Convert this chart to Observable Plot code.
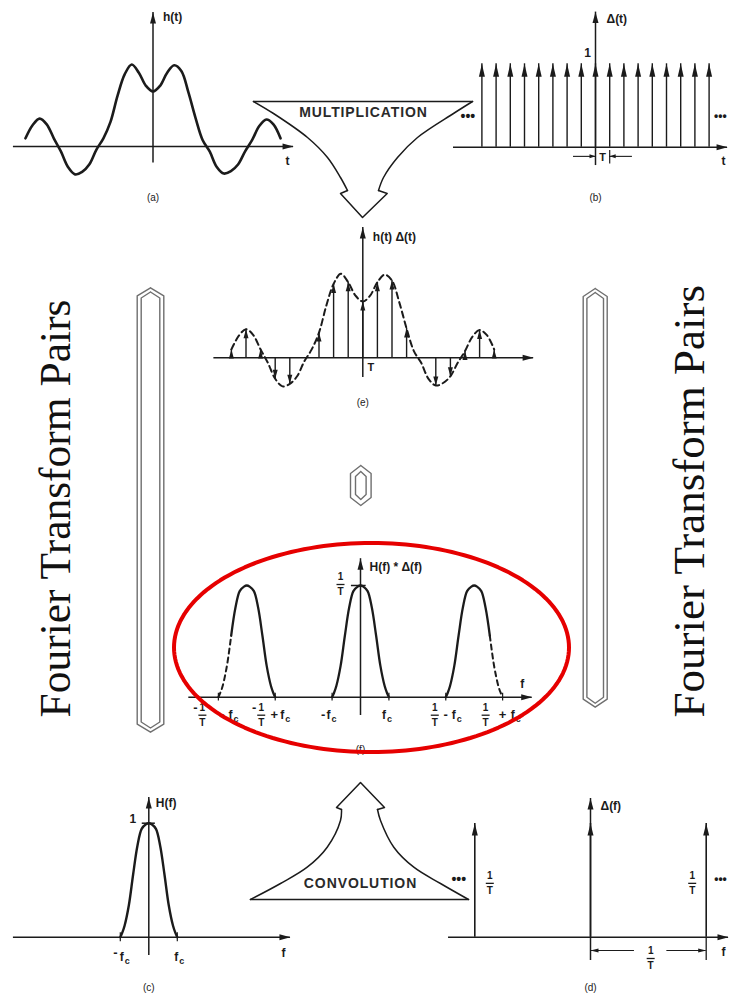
<!DOCTYPE html>
<html><head><meta charset="utf-8">
<script src="https://cdn.jsdelivr.net/npm/d3@7"></script>
<script src="https://cdn.jsdelivr.net/npm/@observablehq/plot@0.6"></script>
<style>
html,body{margin:0;padding:0;background:#fff;overflow:hidden;}
#page{position:relative;width:729px;height:996px;overflow:hidden;background:#fff;}
</style></head><body><div id="page"></div>
<script>
// ---------------- data ----------------
// h(t), t in units of the sampling interval T, step T/2
const tGrid = [-9,-8.5,-8,-7.5,-7,-6.5,-6,-5.5,-5,-4.5,-4,-3.5,-3,-2.5,-2,-1.5,-1,-0.5,0,0.5,1,1.5,2,2.5,3,3.5,4,4.5,5,5.5,6,6.5,7,7.5,8,8.5,9];
const hVals = [0.10,0.26,0.34,0.27,0.10,-0.06,-0.25,-0.34,-0.31,-0.22,-0.04,0.10,0.30,0.62,0.88,1.00,0.90,0.74,0.67,0.74,0.90,0.99,0.92,0.66,0.35,0.08,-0.06,-0.25,-0.33,-0.30,-0.22,-0.06,0.08,0.25,0.33,0.27,0.10];
// sample instants drawn as impulses in (e)
const sampleT = [-9,-8,-7,-6,-5,-3,-2,-1,0,1,2,3,5,6,7,8,9];
// impulse train Δ(t) in (b)
const combN = [-8,-7,-6,-5,-4,-3,-2,-1,0,1,2,3,4,5,6,7,8];
const combHeight = 1;
// band-limited spectrum H(f), f in units of fc
const bellX = [-1,-0.93,-0.85,-0.7,-0.55,-0.4,-0.25,-0.1,0,0.1,0.25,0.4,0.55,0.7,0.85,0.93,1];
const bellY = [0,0.04,0.1,0.28,0.55,0.8,0.95,0.99,1,0.99,0.95,0.8,0.55,0.28,0.1,0.04,0];
// periodic spectrum H(f)*Δ(f): centres in units of 1/T, fc relative to 1/T
const spectrumCenters = [-1, 0, 1];
const fcRatio = 0.25;
const spectrumPeak = 1;     // 1/T
// Δ(f) impulses, in units of 1/T
const deltaF = [-1, 0, 1];
const deltaHeight = 1;      // 1/T
// texts
const titleText = "Fourier Transform Pairs";
const opTexts = ["MULTIPLICATION", "CONVOLUTION"];
const axisLabels = {a: ["h(t)", "t", "(a)"], b: ["Δ(t)", "t", "(b)", "1", "T"], e: ["h(t) Δ(t)", "T", "(e)"],
  f: ["H(f) * Δ(f)", "f", "(f)"], c: ["H(f)", "f", "(c)", "1"], d: ["Δ(f)", "f", "(d)"]};
// tick label pieces for (f): [text, dx, dy?]; "frac" = 1/T, "f" = f with subscript c
const fTickLabels = [
  [["-", -23, 11], ["frac", -16], ["-", 4], ["f", 12]],
  [["-", -21, 11], ["frac", -14], ["+", -1], ["f", 7]],
  [["-", -9], ["f", -3.5]],
  [["f", -5]],
  [["frac", -11], ["-", 0], ["f", 8]],
  [["frac", -17], ["+", 0], ["f", 10]]
];

// ---------------- layout (pixels) ----------------
const W = 729, H = 996;
const A = {x0: 152.5, sx: 14.17, y0: 146, sy: 82, ax: [-9.85, 9.92], ay: [-0.2, 1.634]};
const B = {x0: 595, sx: 14.2, y0: 146.7, sy: 83.4, ax: [-10, 9.3], ay: [-0.22, 1.62]};
const E = {x0: 362.3, sx: 14.6, y0: 357.3, sy: 84, ax: [-10.2, 11.7], ay: [-0.235, 1.55]};
const F = {x0: 360, sx: 113.7, y0: 696.7, sy: 111.7, ax: [-1.51, 1.51], ay: [-0.164, 1.24]};
const C = {x0: 148.3, sx: 28.5, y0: 936.7, sy: 114, ax: [-4.75, 4.97], ay: [-0.16, 1.226]};
const D = {x0: 590, sx: 115.7, y0: 936.7, sy: 113.7, ax: [-1.227, 1.193], ay: [-0.205, 1.22]};
const PX = {x0: 0, sx: 1, y0: 0, sy: -1};

const INK = "#1b1b1b";
const SANS = "Liberation Sans, Arial, Helvetica, sans-serif";
const SERIF = "Liberation Serif, Times New Roman, serif";
const page = document.getElementById("page");

function head(dir, len = 10, wid = 6) {
  const h = wid / 2;
  return {draw(ctx) {
    ctx.moveTo(0, 0);
    if (dir === "up") { ctx.lineTo(-h, len); ctx.lineTo(h, len); }
    else if (dir === "down") { ctx.lineTo(-h, -len); ctx.lineTo(h, -len); }
    else if (dir === "right") { ctx.lineTo(-len, -h); ctx.lineTo(-len, h); }
    else { ctx.lineTo(len, -h); ctx.lineTo(len, h); }
    ctx.closePath();
  }};
}
const bar = (w) => ({draw(ctx) { ctx.moveTo(-w / 2, 0); ctx.lineTo(w / 2, 0); }});

function layer(fr, marks) {
  const svg = Plot.plot({
    width: W, height: H, margin: 0,
    x: {type: "linear", domain: [0, 1], range: [fr.x0, fr.x0 + fr.sx], axis: null},
    y: {type: "linear", domain: [0, 1], range: [fr.y0, fr.y0 - fr.sy], axis: null},
    style: "position:absolute;left:0;top:0;background:transparent;overflow:visible;max-width:none;",
    marks: marks.flat(Infinity)
  });
  page.appendChild(svg);
  return svg;
}
const txt = (x, y, s, o = {}) => Plot.text([s], {x, y, text: d => d, fontFamily: SANS, fontSize: 12, fontWeight: "bold", fill: INK, ...o});
const cap = (x, y, s, dy) => txt(x, y, s, {dy, fontSize: 10, fontWeight: "normal"});
const frac = (x, y, dx, dy, size = 10) => [
  txt(x, y, "1", {dx, dy: dy - 7.5, fontSize: size}),
  Plot.dot([0], {x, y, dx, dy, symbol: bar(8), stroke: INK, strokeWidth: 1.3, fill: "none"}),
  txt(x, y, "T", {dx, dy: dy + 7.5, fontSize: size})
];
const fsub = (x, y, dx, dy) => [
  txt(x, y, "f", {dx, dy, fontSize: 12}),
  txt(x, y, "c", {dx: dx + 5.5, dy: dy + 4, fontSize: 9})
];
const axes = (fr, hw = 1.5) => [
  Plot.ruleY([0], {x1: fr.ax[0], x2: fr.ax[1], stroke: INK, strokeWidth: hw}),
  Plot.ruleX([0], {y1: fr.ay[0], y2: fr.ay[1], stroke: INK, strokeWidth: hw}),
  Plot.dot([0], {x: fr.ax[1], y: 0, symbol: head("right", 11, 6), fill: INK, stroke: "none"}),
  Plot.dot([0], {x: 0, y: fr.ay[1], symbol: head("up", 11, 6), fill: INK, stroke: "none"})
];
const pieces = (x, baseDy, list) => list.map(([s, dx, dy]) =>
  s === "frac" ? frac(x, 0, dx, baseDy) :
  s === "f" ? fsub(x, 0, dx, baseDy) :
  txt(x, 0, s, {dx, dy: dy ?? baseDy, fontSize: 13}));

// ---------------- (a) h(t) ----------------
const hSeries = tGrid.map((t, i) => ({t, h: hVals[i]}));
layer(A, [
  axes(A),
  Plot.line(hSeries, {x: "t", y: "h", curve: "catmull-rom", stroke: INK, strokeWidth: 2.6}),
  txt(0, A.ay[1], axisLabels.a[0], {dx: 10, dy: 5, textAnchor: "start"}),
  txt(A.ax[1], 0, axisLabels.a[1], {dx: -6, dy: 15}),
  cap(0, 0, axisLabels.a[2], 51)
]);

// ---------------- (b) Δ(t) ----------------
const comb = combN.map(n => ({n, v: combHeight}));
layer(B, [
  axes(B),
  Plot.ruleX(comb, {x: "n", y1: 0, y2: "v", stroke: INK, strokeWidth: 1.4}),
  Plot.dot(comb, {x: "n", y: "v", symbol: head("up", 13, 6), fill: INK, stroke: "none"}),
  txt(0, B.ay[1], axisLabels.b[0], {dx: 11, dy: 7, textAnchor: "start"}),
  txt(0, combHeight, axisLabels.b[3], {dx: -8, dy: -11}),
  txt(combN[0], 0, "•••", {dx: -14, dy: -31, fontSize: 14}),
  txt(combN[combN.length - 1], 0, "•••", {dx: 5, dy: -31, fontSize: 12, textAnchor: "start"}),
  Plot.ruleY([-0.11], {x1: -1.55, x2: 0, stroke: INK, strokeWidth: 1.1}),
  Plot.ruleY([-0.11], {x1: 1, x2: 2.6, stroke: INK, strokeWidth: 1.1}),
  Plot.dot([0], {x: 0, y: -0.11, symbol: head("right", 6, 4), fill: INK, stroke: "none"}),
  Plot.dot([0], {x: 1, y: -0.11, symbol: head("left", 6, 4), fill: INK, stroke: "none"}),
  Plot.ruleX([1], {y1: -0.04, y2: -0.2, stroke: INK, strokeWidth: 1.2}),
  txt(0.5, -0.11, axisLabels.b[4], {dy: 1, fontSize: 11}),
  txt(B.ax[1], 0, axisLabels.b[1], {dx: -4, dy: 14}),
  cap(0, 0, axisLabels.b[2], 51)
]);

// ---------------- (e) sampled ----------------
const sampled = sampleT.map(t => ({t, h: hVals[tGrid.indexOf(t)]}));
layer(E, [
  axes(E),
  Plot.line(hSeries, {x: "t", y: "h", curve: "catmull-rom", stroke: INK, strokeWidth: 2, strokeDasharray: "6,4"}),
  Plot.ruleX(sampled, {x: "t", y1: 0, y2: "h", stroke: INK, strokeWidth: 1.4}),
  Plot.dot(sampled.filter(d => d.h > 0), {x: "t", y: "h", symbol: head("up", 9, 5), fill: INK, stroke: "none"}),
  Plot.dot(sampled.filter(d => d.h < 0), {x: "t", y: "h", symbol: head("down", 9, 5), fill: INK, stroke: "none"}),
  txt(0, E.ay[1], axisLabels.e[0], {dx: 10, dy: 10, textAnchor: "start"}),
  txt(0, 0, axisLabels.e[1], {dx: 8, dy: 10, fontSize: 11}),
  cap(0, 0, axisLabels.e[2], 45)
]);

// ---------------- (f) H(f)*Δ(f) ----------------
const spec = spectrumCenters.flatMap(c => bellX.map((b, i) => ({c, b, f: c + b * fcRatio, v: bellY[i] * spectrumPeak})));
const isDashed = d => (d.c < 0 && d.b <= -0.55) || (d.c > 0 && d.b >= 0.55);
const isSolid = d => d.c === 0 || (d.c < 0 && d.b >= -0.55) || (d.c > 0 && d.b <= 0.55);
const fTicks = spectrumCenters.flatMap(c => [c - fcRatio, c + fcRatio]);
layer(F, [
  axes(F),
  Plot.line(spec.filter(isSolid), {x: "f", y: "v", z: "c", curve: "catmull-rom", stroke: INK, strokeWidth: 2.3}),
  Plot.line(spec.filter(isDashed), {x: "f", y: "v", z: "c", curve: "catmull-rom", stroke: INK, strokeWidth: 2, strokeDasharray: "5,4"}),
  Plot.ruleY([spectrumPeak], {x1: -0.08, x2: 0.05, stroke: INK, strokeWidth: 1.5}),
  Plot.ruleX(fTicks, {x: d => d, y1: -0.035, y2: 0.035, stroke: INK, strokeWidth: 1.2}),
  txt(0, F.ay[1], axisLabels.f[0], {dx: 9, dy: 8, textAnchor: "start"}),
  frac(0, spectrumPeak, -20, -1),
  txt(F.ax[1], 0, axisLabels.f[1], {dx: -10, dy: -13}),
  cap(0, 0, axisLabels.f[2], 53),
  fTicks.map((x, i) => pieces(x, 18, fTickLabels[i]))
]);

// ---------------- (c) H(f) ----------------
const bell = bellX.map((b, i) => ({b, v: bellY[i]}));
layer(C, [
  axes(C),
  Plot.line(bell, {x: "b", y: "v", curve: "catmull-rom", stroke: INK, strokeWidth: 2.4}),
  Plot.ruleY([1], {x1: -0.23, x2: 0.23, stroke: INK, strokeWidth: 1.5}),
  Plot.ruleX([-1, 1], {y1: -0.04, y2: 0.04, stroke: INK, strokeWidth: 1.2}),
  txt(0, C.ay[1], axisLabels.c[0], {dx: 7, dy: 6, textAnchor: "start"}),
  txt(0, 1, axisLabels.c[3], {dx: -16, dy: -4}),
  pieces(-1, 20, [["-", -5, 16], ["f", 1.5]]),
  pieces(1, 20, [["f", -1]]),
  txt(C.ax[1], 0, axisLabels.c[1], {dx: -7, dy: 16}),
  cap(0, 0, axisLabels.c[2], 51)
]);

// ---------------- (d) Δ(f) ----------------
const deltas = deltaF.map(f => ({f, v: deltaHeight}));
layer(D, [
  axes(D),
  Plot.ruleX(deltas, {x: "f", y1: 0, y2: "v", stroke: INK, strokeWidth: 1.6}),
  Plot.dot(deltas, {x: "f", y: "v", symbol: head("up", 12, 6), fill: INK, stroke: "none"}),
  txt(0, D.ay[1], axisLabels.d[0], {dx: 10, dy: 8, textAnchor: "start"}),
  frac(deltaF[0], deltaHeight / 2, 15, 3),
  frac(deltaF[2], deltaHeight / 2, -14, 3),
  txt(deltaF[0], deltaHeight / 2, "•••", {dx: -16, dy: -1, fontSize: 14}),
  txt(deltaF[2], deltaHeight / 2, "•••", {dx: 8, dy: -1, fontSize: 12, textAnchor: "start"}),
  Plot.ruleY([-0.117], {x1: 0, x2: 0.38, stroke: INK, strokeWidth: 1.1}),
  Plot.ruleY([-0.117], {x1: 0.66, x2: 1, stroke: INK, strokeWidth: 1.1}),
  Plot.dot([0], {x: 0, y: -0.117, symbol: head("left", 8, 4), fill: INK, stroke: "none"}),
  Plot.dot([0], {x: 1, y: -0.117, symbol: head("right", 8, 4), fill: INK, stroke: "none"}),
  Plot.ruleX([1], {y1: 0, y2: -0.205, stroke: INK, strokeWidth: 1.3}),
  frac(0.52, -0.117, 0, 8),
  txt(D.ax[1], 0, axisLabels.d[1], {dx: -5, dy: 15}),
  cap(0, 0, axisLabels.d[2], 51)
]);

// ---------------- decorations (pixel space) ----------------
const multL = [[253,101],[273,113],[307,137],[327,157],[340,177],[347,190]];
const multR = [[472,101],[453,113],[417,137],[397,157],[383,177],[378,190]];
const multTip = [[347,190],[340,193],[362,217],[386.7,193],[378,190]];
const convL = [[341,809],[340,820],[326.7,846.7],[306.7,866.7],[280,883],[250,899]];
const convR = [[377,809],[380,820],[393.3,846.7],[413.3,866.7],[440,883],[468,899]];
const convTip = [[341,809],[336,807],[360,782],[384,807],[377,809]];
const hex = (cx, top, bot, hw, ch) => [[cx,top],[cx+hw,top+ch],[cx+hw,bot-ch],[cx,bot],[cx-hw,bot-ch],[cx-hw,top+ch],[cx,top]];
const frames = [
  hex(150, 287.3, 731.7, 13.3, 8), hex(150, 291.5, 727.5, 9.3, 6),
  hex(594.7, 288, 706.7, 12, 8), hex(594.7, 292, 702.7, 8.3, 6),
  hex(360.3, 465, 505, 10.3, 8), hex(360.3, 471, 499, 5.3, 5)
];
const ell = d3.range(0, 361, 2).map(a => [371 + 197.5 * Math.cos(a * Math.PI / 180), 647 + 104.5 * Math.sin(a * Math.PI / 180)]);
const P = (pts, o) => Plot.line(pts, {x: d => d[0], y: d => d[1], ...o});
const deco = layer(PX, [
  P([[253,101],[472,101]], {stroke: INK, strokeWidth: 1.6}),
  P(multL, {curve: "catmull-rom", stroke: INK, strokeWidth: 1.5}),
  P(multR, {curve: "catmull-rom", stroke: INK, strokeWidth: 1.5}),
  P(multTip, {stroke: INK, strokeWidth: 1.5}),
  P([[250,899],[468,899]], {stroke: INK, strokeWidth: 1.6}),
  P(convL, {curve: "catmull-rom", stroke: INK, strokeWidth: 1.5}),
  P(convR, {curve: "catmull-rom", stroke: INK, strokeWidth: 1.5}),
  P(convTip, {stroke: INK, strokeWidth: 1.5}),
  frames.map(f => P(f, {stroke: "#6f6f6f", strokeWidth: 1.4})),
  txt(363, 112, opTexts[0], {fontSize: 14, fill: "#2a2a2a"}),
  txt(360, 883, opTexts[1], {fontSize: 14, fill: "#2a2a2a"}),
  Plot.text([titleText], {x: 56, y: 508, text: d => d, rotate: -90, fontFamily: SERIF, fontSize: 43.5, fill: "#111"}),
  Plot.text([titleText], {x: 688.6, y: 500.7, text: d => d, rotate: -90, fontFamily: SERIF, fontSize: 45, fill: "#111"}),
  P(ell, {stroke: "#e60000", strokeWidth: 4})
]);
d3.select(deco).selectAll("text").each(function () {
  if (opTexts.includes(this.textContent)) this.setAttribute("letter-spacing", "0.9");
});
</script></body></html>
